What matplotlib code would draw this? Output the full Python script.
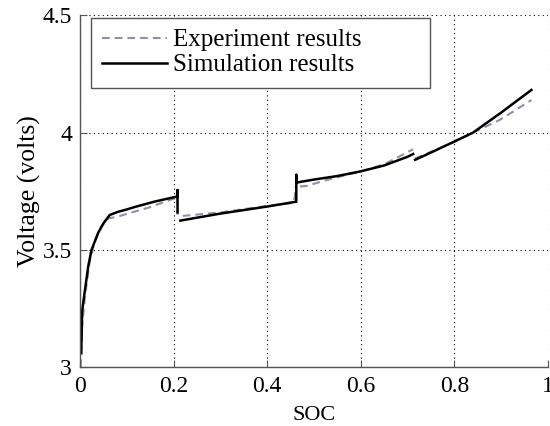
import matplotlib
matplotlib.use("Agg")
import matplotlib.pyplot as plt
import numpy as np

# Simulation results (NaN separates segments)
sim_soc = [0.002, 0.004, 0.01, 0.017, 0.024, 0.038, 0.05, 0.063, 0.08, 0.095, 0.12, 0.159, 0.19, 0.206,
           0.208, 0.208, 0.208, np.nan,
           0.214, 0.3, 0.4, 0.46, 0.462, 0.462, 0.462,
           0.5, 0.55, 0.6, 0.65, 0.7, 0.712, np.nan,
           0.716, 0.75, 0.8, 0.84, 0.9, 0.93, 0.965]
sim_v = [3.06, 3.24, 3.33, 3.43, 3.50, 3.572, 3.615, 3.649, 3.662, 3.670, 3.685, 3.706, 3.72, 3.727,
         3.73, 3.755, 3.66, np.nan,
         3.625, 3.655, 3.685, 3.705, 3.705, 3.82, 3.787,
         3.80, 3.815, 3.835, 3.86, 3.897, 3.909, np.nan,
         3.884, 3.915, 3.962, 4.0, 4.085, 4.13, 4.182]

# Experiment results
exp_soc = [0.001, 0.004, 0.01, 0.02, 0.03, 0.045, 0.06, 0.077, 0.1, 0.149, 0.191, 0.205, 0.208, 0.208, np.nan,
           0.219, 0.3, 0.4, 0.455, 0.459, 0.459, np.nan,
           0.47, 0.484, 0.54, 0.6, 0.65, 0.712, np.nan,
           0.716, 0.8, 0.84, 0.897, 0.93, 0.965]
exp_v = [3.0, 3.18, 3.30, 3.45, 3.53, 3.60, 3.635, 3.64, 3.654, 3.682, 3.713, 3.72, 3.73, 3.65, np.nan,
         3.645, 3.66, 3.688, 3.70, 3.727, 3.77, np.nan,
         3.77, 3.773, 3.805, 3.835, 3.865, 3.929, np.nan,
         3.89, 3.96, 4.0, 4.054, 4.095, 4.139]

plt.rcParams.update({"font.family": "Liberation Serif", "font.size": 17})

fig = plt.figure(figsize=(5.5, 4.26), dpi=100)
ax = fig.add_axes([0.146, 0.138, 0.850, 0.826])

ax.plot(exp_soc, exp_v, color="#9090a0", lw=1.5, linestyle=(0, (3.7, 2.4)), label="Experiment results")
ax.plot(sim_soc, sim_v, color="black", lw=1.8, label="Simulation results")

ax.set_xlim(0, 1)
ax.set_ylim(3, 4.5)
ax.set_xticks([0, 0.2, 0.4, 0.6, 0.8, 1])
ax.set_xticklabels(["0", "0.2", "0.4", "0.6", "0.8", "1"])
ax.set_yticks([3, 3.5, 4, 4.5])
ax.set_yticklabels(["3", "3.5", "4", "4.5"])
ax.grid(True, color="black", linestyle=(0, (1, 3)), lw=0.8)
ax.tick_params(direction="in", length=5, width=0.8, color="#555555")
ax.tick_params(axis="x", pad=6)
ax.tick_params(axis="y", pad=6)
for s in ["top", "right"]:
    ax.spines[s].set_visible(False)
for s in ["left", "bottom"]:
    ax.spines[s].set_color("#555555")
    ax.spines[s].set_linewidth(1.0)

ax.set_xlabel("SOC", fontsize=16, labelpad=7)
ax.set_ylabel("Voltage (volts)", fontsize=18.5, labelpad=1)

leg = ax.legend(loc="upper left", bbox_to_anchor=(0.0225, 0.7937, 0.725, 0.2), mode="expand",
                fancybox=False, framealpha=1, fontsize=18,
                edgecolor="#555555", handlelength=2.6, handletextpad=0.25, borderpad=0.45,
                labelspacing=0.1, borderaxespad=0)
leg.get_frame().set_linewidth(1.0)

fig.savefig("out.png", dpi=100)
